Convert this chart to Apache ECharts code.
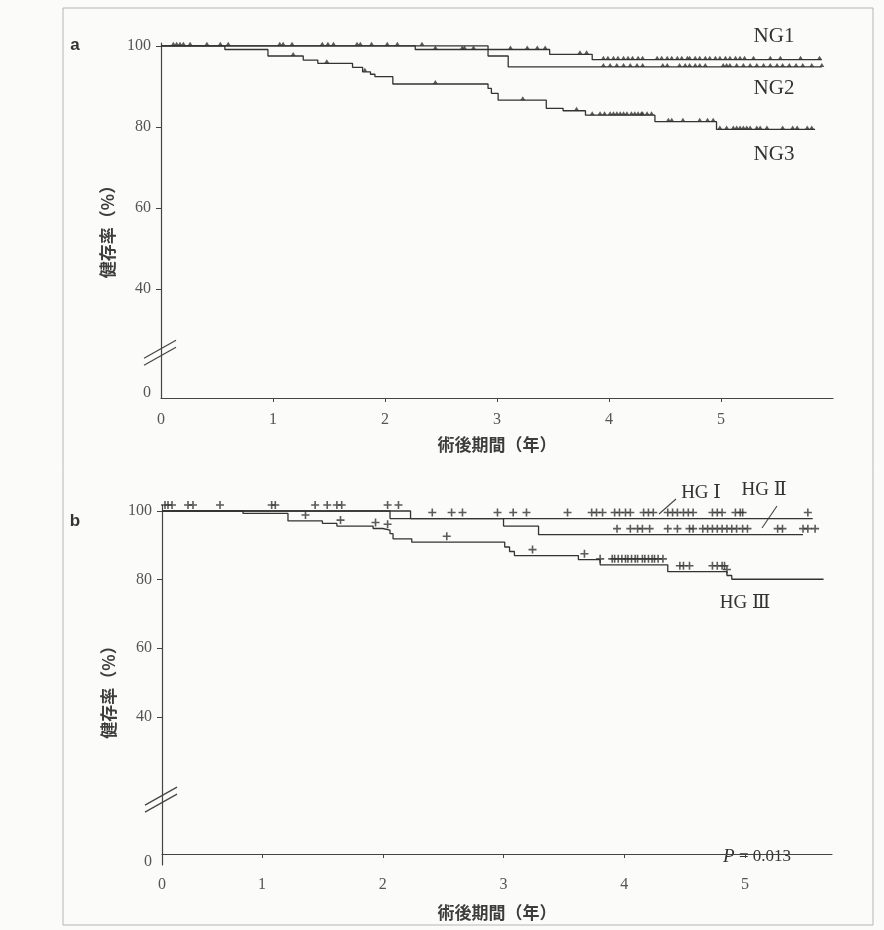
<!DOCTYPE html>
<html><head><meta charset="utf-8">
<script src="https://cdn.jsdelivr.net/npm/echarts@6/dist/echarts.min.js"></script>
<style>html,body{margin:0;padding:0;background:#fbfbf9}#c{width:884px;height:930px}</style>
</head><body><div id="c"></div><script>
// ---------- Panel a (NG) : [time in years, survival %] step points ----------
const ng1Steps = [[0,100],[2.27,99.1],[3.47,97.9],[3.85,96.6],[5.90,96.6]];
const ng2Steps = [[0,100],[2.92,97.5],[3.10,94.8],[5.90,94.8]];
const ng3Steps = [[0,100],[0.57,99.1],[0.955,97.5],[1.27,96.5],[1.40,95.7],[1.71,94.7],[1.80,93.6],[1.87,93.0],[1.91,92.4],[2.07,90.6],[2.92,89.5],[2.95,88.3],[3.01,86.6],[3.44,84.6],[3.59,84.0],[3.79,82.9],[4.41,81.3],[4.96,79.4],[5.84,79.4]];
const ng1Censor = [0.11,0.14,0.17,0.20,0.26,0.41,0.53,0.60,1.06,1.09,1.17,1.44,1.49,1.54,1.75,1.78,1.88,2.02,2.11,2.45,2.69,2.71,2.79,3.12,3.27,3.36,3.43,3.74,3.80,3.95,3.99,4.04,4.08,4.13,4.17,4.21,4.26,4.30,4.43,4.47,4.52,4.56,4.61,4.65,4.70,4.72,4.77,4.81,4.86,4.90,4.95,4.99,5.04,5.08,5.13,5.17,5.21,5.29,5.44,5.53,5.71,5.88];
const ng2Censor = [2.33,3.95,4.01,4.07,4.13,4.19,4.25,4.30,4.48,4.52,4.63,4.68,4.72,4.77,4.81,4.86,5.02,5.05,5.08,5.14,5.20,5.26,5.32,5.38,5.44,5.50,5.55,5.61,5.67,5.73,5.81,5.90];
const ng3Censor = [1.18,1.48,1.82,2.45,3.23,3.71,3.85,3.92,3.96,4.01,4.04,4.07,4.10,4.13,4.16,4.20,4.23,4.26,4.29,4.30,4.34,4.38,4.53,4.56,4.66,4.81,4.88,4.93,4.99,5.05,5.11,5.14,5.17,5.20,5.23,5.26,5.32,5.35,5.41,5.55,5.64,5.68,5.77,5.81];
const xTicksA = [0,1,2,3,4,5];
const yTicksA = [40,60,80,100];

// ---------- Panel b (HG) ----------
const hg1Steps = [[0,100],[2.23,97.8],[5.56,97.8]];
const hg2Steps = [[0,100],[2.06,97.8],[3.00,95.6],[3.29,93.1],[5.48,93.1]];
const hg3Steps = [[0,100],[0.81,99.3],[1.215,97.1],[1.50,96.4],[1.62,95.6],[1.92,94.9],[2.00,94.4],[2.06,93.4],[2.085,91.9],[2.24,90.9],[3.01,89.5],[3.05,88.2],[3.09,87.0],[3.62,85.8],[3.80,84.3],[4.36,82.3],[4.85,81.2],[4.89,80.1],[5.65,80.1]];
const hg1Censor = [0.03,0.06,0.10,0.26,0.31,0.58,1.08,1.11,1.44,1.54,1.62,1.66,2.04,2.13,2.41,2.57,2.66,2.95,3.08,3.19,3.53,3.73,3.77,3.82,3.92,3.96,4.01,4.05,4.16,4.20,4.24,4.36,4.40,4.44,4.49,4.53,4.57,4.73,4.77,4.81,4.92,4.96,4.98,5.52];
const hg2Censor = [3.94,4.05,4.11,4.15,4.21,4.36,4.44,4.54,4.57,4.65,4.69,4.73,4.77,4.81,4.85,4.89,4.93,4.98,5.02,5.27,5.31,5.48,5.52,5.58];
const hg3Censor = [1.36,1.65,1.94,2.04,2.53,3.24,3.67,3.80,3.90,3.92,3.95,3.98,4.01,4.03,4.06,4.09,4.11,4.15,4.17,4.20,4.23,4.25,4.28,4.32,4.46,4.49,4.54,4.73,4.77,4.81,4.83,4.85];
const xTicksB = [0,1,2,3,4,5];
const yTicksB = [40,60,80,100];

// the printed panel b draws its first year shorter than the others
const FIRST_YEAR_B = 100/120.75;
function bx(t){ return t < 1 ? 1 - (1 - t) * FIRST_YEAR_B : t; }
function survAt(steps, t){ let v = steps[0][1]; for (const s of steps){ if (s[0] <= t + 1e-9) v = s[1]; } return v; }

const INK = '#333';
const SERIF = '"Liberation Serif","DejaVu Serif",serif';
const JP = '"Noto Sans CJK JP","Noto Sans CJK SC",sans-serif';
const PLUS = 'path://M4,0H6V4H10V6H6V10H4V6H0V4H4Z';

const chart = echarts.init(document.getElementById('c'), null, {renderer:'canvas'});

function stepSeries(steps, xi, map){
  return {type:'line', step:'end', xAxisIndex:xi, yAxisIndex:xi, showSymbol:false, silent:true,
    data: steps.map(p => [map(p[0]), p[1]]), lineStyle:{color:INK, width:1.3}, z:2};
}
function censorSeries(times, steps, xi, map, symbol, size, offset){
  return {type:'scatter', xAxisIndex:xi, yAxisIndex:xi, clip:false, silent:true, symbol:symbol,
    symbolSize:size, symbolOffset:offset, itemStyle:{color:INK},
    data: times.map(t => [map(t), survAt(steps, t)]), z:3};
}
const idA = t => t;

const axisLineStyle = {lineStyle:{color:'#444', width:1.2}};
const labelStyle = {color:'#555', fontFamily:SERIF, fontSize:16};
const nameStyle = {fontFamily:JP, fontSize:17, fontWeight:'bold', color:'#3d3d3d'};

const option = {
  backgroundColor:'#fbfbf9',
  animation:false,
  grid:[
    {left:161, top:43, width:672, height:355},
    {left:162, top:505, width:670, height:360}
  ],
  xAxis:[
    {gridIndex:0, type:'value', min:0, max:6, splitLine:{show:false}, axisLine:axisLineStyle,
     axisTick:{customValues:xTicksA.slice(1), length:4, lineStyle:{color:'#444'}},
     axisLabel:Object.assign({customValues:xTicksA, margin:14, formatter:v=>String(Math.round(v))}, labelStyle),
     name:'術後期間（年）', nameLocation:'middle', nameGap:38, nameTextStyle:nameStyle},
    {gridIndex:1, type:'value', min:bx(0), max:5.72, splitLine:{show:false}, axisLine:axisLineStyle,
     axisTick:{customValues:xTicksB.slice(1), length:4, lineStyle:{color:'#444'}},
     axisLabel:Object.assign({customValues:xTicksB.map(bx), margin:12, formatter:v=>v<0.5?'0':String(Math.round(v))}, labelStyle),
     name:'術後期間（年）', nameLocation:'middle', nameGap:39, nameTextStyle:nameStyle}
  ],
  yAxis:[
    {gridIndex:0, type:'value', min:13.2, max:100.7, splitLine:{show:false}, axisLine:axisLineStyle,
     axisTick:{customValues:yTicksA, length:5, lineStyle:{color:'#444'}},
     axisLabel:Object.assign({customValues:[14.5].concat(yTicksA), margin:10, formatter:v=>v<30?'0':String(Math.round(v))}, labelStyle),
     name:'健存率（%）', nameLocation:'middle', nameGap:44,
     nameTextStyle:Object.assign({padding:[0,14,0,0]}, nameStyle)},
    {gridIndex:1, type:'value', min:-3.2, max:101.75, splitLine:{show:false}, axisLine:axisLineStyle,
     axisTick:{customValues:yTicksB, length:5, lineStyle:{color:'#444'}},
     axisLabel:Object.assign({customValues:[-2.3].concat(yTicksB), margin:10, formatter:v=>v<30?'0':String(Math.round(v))}, labelStyle),
     name:'健存率（%）', nameLocation:'middle', nameGap:44,
     nameTextStyle:Object.assign({padding:[0,6,0,0]}, nameStyle)}
  ],
  series:[
    stepSeries(ng1Steps,0,idA), stepSeries(ng2Steps,0,idA), stepSeries(ng3Steps,0,idA),
    censorSeries(ng1Censor, ng1Steps, 0, idA, 'triangle', [5,4], [0,-2]),
    censorSeries(ng2Censor, ng2Steps, 0, idA, 'triangle', [5,4], [0,-2]),
    censorSeries(ng3Censor, ng3Steps, 0, idA, 'triangle', [5,4], [0,-2]),
    stepSeries(hg1Steps,1,bx), stepSeries(hg2Steps,1,bx), stepSeries(hg3Steps,1,bx),
    censorSeries(hg1Censor, hg1Steps, 1, bx, PLUS, 8, [0,-6]),
    censorSeries(hg2Censor, hg2Steps, 1, bx, PLUS, 8, [0,-6]),
    censorSeries(hg3Censor, hg3Steps, 1, bx, PLUS, 8, [0,-6])
  ]
};
chart.setOption(option);

// decorations: axis breaks, panel letters, curve labels, frame
function brk(gi, yVal){
  const p = chart.convertToPixel({gridIndex:gi}, [gi===0?0:bx(0), yVal]);
  const x = p[0], y = p[1];
  const mk = dy => ({type:'line', shape:{x1:x-17, y1:y+9+dy, x2:x+15, y2:y-9+dy}, style:{stroke:'#444', lineWidth:1.2}});
  return [mk(-3), mk(4)];
}
const txt = (x, y, s, font, align) => ({type:'text', x:x, y:y, style:{text:s, font:font, fill:'#333', align:align||'center', verticalAlign:'middle'}});
const graphics = [].concat(
  [{type:'rect', shape:{x:63, y:8, width:810, height:917}, style:{fill:null, stroke:'#b5b5b5', lineWidth:1}, z:-1}],
  brk(0, 24.5), brk(1, 16),
  [txt(75, 45, 'a', 'bold 17px "Liberation Sans",Arial,sans-serif'),
   txt(75, 521, 'b', 'bold 17px "Liberation Sans",Arial,sans-serif'),
   txt(774, 36, 'NG1', '21px '+SERIF),
   txt(774, 88, 'NG2', '21px '+SERIF),
   txt(774, 154, 'NG3', '21px '+SERIF),
   txt(701, 493, 'HG Ⅰ', '19px '+SERIF),
   txt(764, 490, 'HG Ⅱ', '19px '+SERIF),
   txt(745, 603, 'HG Ⅲ', '19px '+SERIF),
   {type:'text', x:757, y:857, style:{text:'{i|P} = 0.013', fill:'#333', align:'center', verticalAlign:'middle',
     rich:{i:{fontFamily:SERIF, fontStyle:'italic', fontSize:19, fill:'#333'}}, font:'17px '+SERIF}},
   {type:'line', shape:{x1:676, y1:499, x2:659, y2:514}, style:{stroke:'#444', lineWidth:1.1}},
   {type:'line', shape:{x1:777, y1:506, x2:762, y2:528}, style:{stroke:'#444', lineWidth:1.1}}]
);
chart.setOption({graphic:graphics});
</script></body></html>
